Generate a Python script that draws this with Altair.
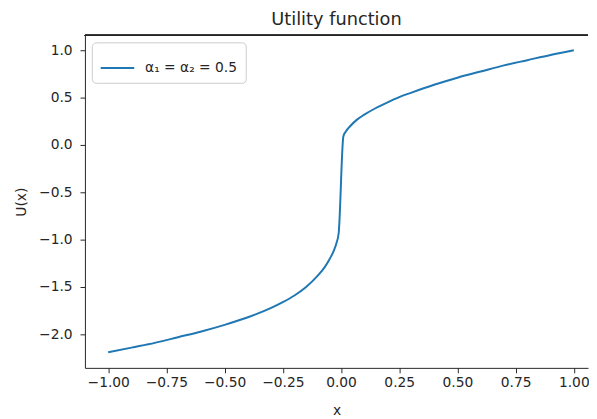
import altair as alt
import pandas as pd

# Values
x_vals = [-1.0, -0.9, -0.8, -0.7, -0.6, -0.5, -0.4, -0.3, -0.25, -0.2, -0.15,
          -0.1, -0.07, -0.05, -0.03, -0.02, -0.01,
          0.01, 0.02, 0.04, 0.07, 0.1, 0.15, 0.2, 0.25, 0.3, 0.4, 0.5, 0.6,
          0.7, 0.8, 0.9, 1.0]
u_vals = [-2.19, -2.14, -2.09, -2.03, -1.97, -1.90, -1.82, -1.72, -1.66, -1.59, -1.50,
          -1.38, -1.29, -1.21, -1.11, -1.04, -0.93,
          0.09, 0.14, 0.20, 0.27, 0.32, 0.39, 0.45, 0.505, 0.55, 0.635, 0.71, 0.775,
          0.84, 0.895, 0.95, 1.0]
series_name = "α₁ = α₂ = 0.5"
x_ticks = [-1.0, -0.75, -0.5, -0.25, 0.0, 0.25, 0.5, 0.75, 1.0]
y_ticks = [-2.0, -1.5, -1.0, -0.5, 0.0, 0.5, 1.0]

df = pd.DataFrame({"x": x_vals, "U": u_vals, "series": [series_name] * len(x_vals)})

W, H = 510, 337
FONT = "DejaVu Sans"
INK = "#262626"

line = alt.Chart(df).mark_line(strokeWidth=2, interpolate="monotone").encode(
    x=alt.X("x:Q",
            scale=alt.Scale(domain=[-1.1, 1.061], nice=False, zero=False),
            axis=alt.Axis(values=x_ticks, format=".2f", title="x",
                          titlePadding=14, labelPadding=3)),
    y=alt.Y("U:Q",
            scale=alt.Scale(domain=[-2.354, 1.156], nice=False, zero=False),
            axis=alt.Axis(values=y_ticks, format=".1f", title="U(x)",
                          titlePadding=10, labelPadding=8)),
    color=alt.Color("series:N",
                    scale=alt.Scale(range=["#1f77b4"]),
                    legend=alt.Legend(title=None, orient="none", legendX=7, legendY=7,
                                      symbolType="stroke", symbolSize=1156,
                                      symbolStrokeWidth=2, labelOffset=10,
                                      labelFontSize=14, labelFont=FONT, labelColor=INK,
                                      padding=8, strokeColor="#cccccc",
                                      cornerRadius=4,
                                      fillColor="rgba(255,255,255,0.8)")),
)

top_spine = alt.Chart(df).mark_rule(color=INK, strokeWidth=1).encode(
    x=alt.value(0), x2=alt.value(W), y=alt.value(0)
)

chart = alt.layer(line, top_spine).properties(
    width=W, height=H,
    title=alt.TitleParams("Utility function", fontSize=18, font=FONT,
                          fontWeight="normal", color=INK, offset=6,
                          frame="group", anchor="middle"),
    autosize=alt.AutoSizeParams(type="none"),
    padding={"left": 78, "top": 25, "right": 1, "bottom": 49},
).configure_view(stroke=None).configure_axis(
    grid=False, labelFont=FONT, labelFontSize=14, labelColor=INK,
    titleFont=FONT, titleFontSize=14, titleFontWeight="normal", titleColor=INK,
    tickColor=INK, tickSize=5, domainColor=INK, domainWidth=1, labelFlush=False,
)

chart.save("out.html", embed_options={"renderer": "svg", "actions": False})
